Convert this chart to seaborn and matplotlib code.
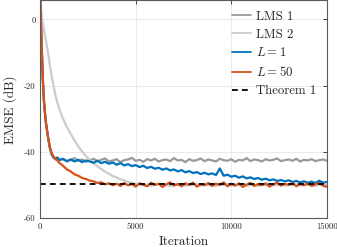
import matplotlib
matplotlib.use('Agg')
import matplotlib.pyplot as plt
import seaborn as sns
import pandas as pd

# sample iterations: dense at the start, then every 200
iters_early = [0, 50, 100, 150, 200, 250, 300, 400, 500, 600, 700, 800, 900, 1000]
iters_tail = list(range(1200, 15001, 200))
iterations = iters_early + iters_tail

# EMSE in dB
lms1 = [8, -2, -11, -19, -24.5, -28, -31, -35, -38.5, -40.8, -41.8, -42.3, -42.0, -42.6,
        -42.2, -42.9, -42.4, -41.9, -42.7, -42.3, -43.0, -42.5, -42.1, -42.8,
        -42.4, -42.0, -42.9, -42.6, -42.2, -43.1, -42.5, -42.3, -41.8, -42.7,
        -42.4, -43.0, -42.2, -42.6, -42.1, -42.9, -42.5, -42.3, -42.8, -41.9,
        -42.6, -42.4, -43.1, -42.2, -42.7, -42.5, -42.0, -42.8, -42.3, -42.6,
        -42.9, -42.1, -42.5, -42.7, -42.2, -43.0, -42.4, -42.6, -41.9, -42.8,
        -42.3, -42.5, -42.9, -42.2, -42.6, -42.4, -42.0, -42.8, -42.5, -42.3,
        -42.7, -42.1, -42.9, -42.4, -42.6, -42.2, -42.8, -42.5, -42.3, -42.7]

lms2 = [6.5, 3, 0.5, -1.5, -3, -4.8, -6.3, -9.5, -13.5, -17, -20, -22.8, -25, -27,
        -30.0, -32.5, -34.6, -36.5, -38.4, -39.9, -41.3, -42.5, -43.5, -44.4,
        -45.2, -46.0, -46.6, -47.3, -47.7, -48.3, -48.6, -49.1, -49.3, -49.7,
        -49.9, -50.2, -49.8, -50.3, -50.0, -49.7, -50.2, -49.9, -50.4, -49.8,
        -50.1, -49.7, -50.3, -49.9, -50.0, -49.6, -50.2, -49.8, -50.1, -49.9,
        -50.3, -49.8, -50.0, -49.7, -50.2, -49.9, -50.1, -49.6, -50.2, -50.0,
        -49.8, -50.3, -49.9, -50.1, -49.7, -50.2, -50.0, -49.8, -50.3, -49.9,
        -50.1, -49.7, -50.2, -49.9, -50.0, -49.8, -50.3, -49.9, -50.1, -50.0]

l1 = [8, -2, -11, -19, -24.5, -28, -31, -35, -38.5, -40.6, -41.6, -42.0, -41.7, -42.4,
      -42.1, -42.8, -42.3, -42.9, -42.4, -43.1, -42.6, -42.9, -43.3, -42.7,
      -43.4, -43.0, -43.6, -43.2, -43.9, -43.4, -44.1, -43.7, -44.3, -44.0,
      -44.6, -44.2, -44.9, -44.5, -45.1, -44.8, -45.4, -45.0, -45.6, -45.3,
      -45.9, -45.5, -46.2, -45.8, -46.4, -46.1, -46.7, -46.3, -46.8, -46.5,
      -47.0, -45.0, -47.2, -46.9, -47.5, -47.2, -47.8, -47.4, -48.0, -47.7,
      -48.2, -47.9, -48.4, -48.1, -48.6, -48.3, -48.8, -48.5, -48.9, -48.6,
      -49.1, -48.8, -49.2, -48.9, -49.3, -49.0, -49.4, -48.7, -49.3, -49.1]

l50 = [8, -2, -11, -19, -24.5, -28, -31, -35, -38.5, -40.3, -41.3, -42.1, -42.6, -43.3,
       -44.2, -45.3, -45.9, -46.8, -47.2, -47.9, -48.2, -48.7, -48.9, -49.4,
       -49.2, -49.8, -49.5, -50.1, -49.6, -50.3, -49.4, -50.1, -49.7, -50.5,
       -49.5, -49.9, -50.4, -49.3, -50.0, -49.6, -50.6, -49.8, -49.2, -50.2,
       -49.7, -50.4, -49.5, -50.0, -49.3, -50.5, -49.8, -50.1, -49.4, -50.3,
       -49.6, -50.0, -49.2, -50.4, -49.7, -50.2, -49.5, -50.6, -49.9, -49.4,
       -50.3, -49.7, -50.1, -49.5, -50.5, -49.8, -49.3, -50.2, -49.6, -50.0,
       -49.4, -50.4, -49.7, -50.1, -49.5, -50.3, -49.8, -49.4, -50.2, -50.6]

theorem_x = [0, 15000]
theorem_y = [-49.8, -49.8]

xticks = [0, 5000, 10000, 15000]
xtick_labels = ["0", "5000", "10000", "15000"]
yticks = [-60, -40, -20, 0]
ytick_labels = ["-60", "-40", "-20", "0"]

df = pd.DataFrame({"it": iterations, "LMS 1": lms1, "LMS 2": lms2,
                   "L1": l1, "L50": l50})

sns.set_style("whitegrid")
plt.rcParams['font.family'] = ['cmr10', 'DejaVu Serif']
plt.rcParams['mathtext.fontset'] = 'cm'
plt.rcParams['axes.unicode_minus'] = False

fig = plt.figure(figsize=(3.37, 2.47), dpi=100)
ax = fig.add_axes([0.119, 0.117, 0.851, 0.881])

lw = 1.6
sns.lineplot(data=df, x="it", y="LMS 1", ax=ax, color="#999999", lw=lw, label="LMS 1")
sns.lineplot(data=df, x="it", y="LMS 2", ax=ax, color="#cccccc", lw=lw, label="LMS 2")
sns.lineplot(data=df, x="it", y="L1", ax=ax, color="#0072bd", lw=lw, label="$L = 1$")
sns.lineplot(data=df, x="it", y="L50", ax=ax, color="#d95319", lw=lw, label="$L = 50$")
sns.lineplot(x=theorem_x, y=theorem_y, ax=ax, color="black", lw=1.3,
             label="Theorem 1")
ax.lines[-1].set_dashes((3.2, 2.3))

ax.set_xlim(0, 15000)
ax.set_ylim(-60, 5.7)
ax.set_xticks(xticks)
ax.set_xticklabels(xtick_labels, fontsize=6.3)
ax.set_yticks(yticks)
ax.set_yticklabels(ytick_labels, fontsize=6.3)
ax.tick_params(direction='in', length=3, width=0.6, color='#262626',
               top=True, right=True, pad=3)
ax.grid(True, color='#e6e6e6', lw=0.6)
for s in ax.spines.values():
    s.set_visible(True)
    s.set_color('#5a5a5a')
    s.set_linewidth(0.8)

ax.set_xlabel("Iteration", fontsize=9.5, labelpad=4)
ax.set_ylabel("EMSE (dB)", fontsize=9.5, labelpad=5)

leg = ax.legend(loc='upper right', frameon=False, fontsize=9.2, handlelength=1.5,
                labelspacing=0.45, borderaxespad=0.4, handletextpad=0.45)
for h in leg.get_lines()[:4]:
    h.set_linewidth(1.3)

fig.savefig("out.png", dpi=100)
